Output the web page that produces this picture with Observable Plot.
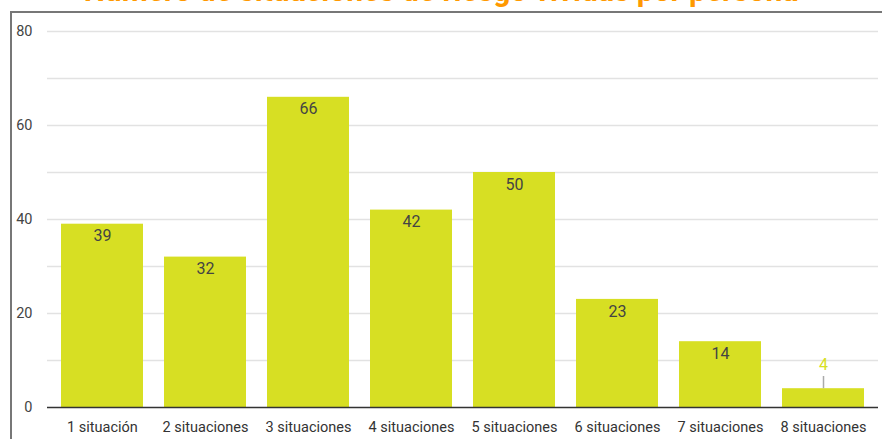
<!DOCTYPE html>
<html>
<head>
<meta charset="utf-8">
<script src="https://cdn.jsdelivr.net/npm/d3@7"></script>
<script src="https://cdn.jsdelivr.net/npm/@observablehq/plot@0.6"></script>
<style>
  html, body { margin: 0; padding: 0; background: #fff; overflow: hidden; }
  #wrap { position: relative; width: 882px; height: 439px; overflow: hidden; font-family: Roboto, sans-serif; }
  #title { position: absolute; left: 0; width: 882px; top: -25px; text-align: center; font: bold 30px Roboto, sans-serif; color: #ff9900; white-space: nowrap; line-height: 32px; }
  #frame { position: absolute; left: 10px; top: 11px; width: 900px; height: 500px; border-left: 2px solid #777; border-top: 2px solid #777; }
  #chart { position: absolute; left: 0; top: 0; }
</style>
</head>
<body>
<div id="wrap">
  <div id="title">Número de situaciones de riesgo vividas por persona</div>
  <div id="frame"></div>
  <div id="chart"></div>
</div>
<script>
const categories = ["1 situación", "2 situaciones", "3 situaciones", "4 situaciones", "5 situaciones", "6 situaciones", "7 situaciones", "8 situaciones"];
const values = [39, 32, 66, 42, 50, 23, 14, 4];
const yTicks = [0, 20, 40, 60, 80];
const gridLines = [0, 10, 20, 30, 40, 50, 60, 70, 80];

const data = categories.map((c, i) => ({cat: c, v: values[i]}));
const inside = data.filter(d => d.v >= 8);
const outside = data.filter(d => d.v < 8);
const barColor = "#d7df23";

const plot = Plot.plot({
  width: 882,
  height: 439,
  marginTop: 31,
  marginBottom: 32,
  marginLeft: 49,
  marginRight: 6,
  style: {fontFamily: "Roboto, sans-serif", fontSize: "14px", color: "#444", background: "transparent"},
  x: {domain: categories, paddingInner: 0.2, paddingOuter: 0.1, label: null},
  y: {domain: [0, 80], label: null},
  marks: [
    Plot.ruleY(gridLines.filter(g => g > 0), {stroke: "#e2e2e2", strokeWidth: 1.5, strokeOpacity: 1, insetLeft: -2, insetRight: -2}),
    Plot.barY(data, {x: "cat", y: "v", fill: barColor}),
    Plot.text(inside, {x: "cat", y: "v", text: d => String(d.v), dy: 12, fill: "#444", fontSize: 16}),
    Plot.ruleX(outside, {x: "cat", y1: "v", y2: d => d.v + 2.6, stroke: "#aaa", strokeWidth: 1.5}),
    Plot.text(outside, {x: "cat", y: "v", text: d => String(d.v), dy: -24, fill: barColor, fontSize: 16}),
    Plot.ruleY([0], {stroke: "#333", strokeWidth: 1.5, insetLeft: -2, insetRight: -2}),
    Plot.axisY({ticks: yTicks, tickSize: 0, tickPadding: 17, fontSize: 14.5, fill: "#444"}),
    Plot.axisX({tickSize: 0, tickPadding: 14, fontSize: 14.5, fill: "#333"})
  ]
});
document.getElementById("chart").appendChild(plot);
</script>
</body>
</html>
